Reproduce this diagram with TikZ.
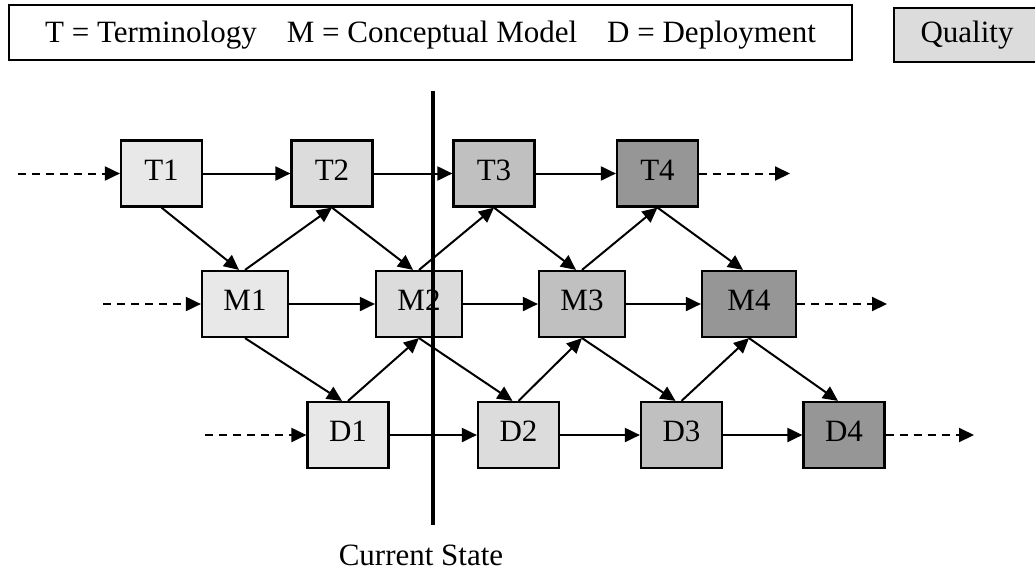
\documentclass[tikz,border=0pt]{standalone}
\usepackage{fontspec}
\setmainfont{Liberation Serif}
\usetikzlibrary{arrows.meta}

\definecolor{levelA}{HTML}{E8E8E8}
\definecolor{levelB}{HTML}{DCDCDC}
\definecolor{levelC}{HTML}{C0C0C0}
\definecolor{levelD}{HTML}{969696}

\tikzset{
  stagebox/.style={draw, line width=2.2pt, minimum width=81pt, minimum height=66pt, inner sep=0pt, text height=21pt, text depth=8pt},
  flow/.style={line width=2pt, -{Triangle[length=15pt,width=14pt]}},
  dashflow/.style={flow, dash pattern=on 8pt off 6pt}
}

\begin{document}
\begin{tikzpicture}[x=1pt, y=-1pt, font=\fontsize{31}{37}\selectfont]
                \useasboundingbox (0,0) rectangle (1035,571);
                \clip (0,0) rectangle (1035,571);
                % legend
                \node[draw, line width=2.2pt, minimum width=843pt, minimum height=55pt, inner sep=0pt, text height=26pt, text depth=7pt] (legend) at (430.5,32.5) {T = Terminology\hspace{30pt}M = Conceptual Model\hspace{30pt}D = Deployment};
                \node[draw, line width=2.2pt, fill=levelB, minimum width=146pt, minimum height=54pt, inner sep=0pt] (quality) at (967,35) {Quality};
                % terminology row
                \node[stagebox, fill=levelA] (T1) at (161.5,173.5) {T1};
                \node[stagebox, fill=levelB] (T2) at (332,173.5) {T2};
                \node[stagebox, fill=levelC] (T3) at (494,173.5) {T3};
                \node[stagebox, fill=levelD] (T4) at (657.5,173.5) {T4};
                % conceptual model row
                \node[stagebox, fill=levelA, minimum width=86pt] (M1) at (245,304) {M1};
                \node[stagebox, fill=levelB, minimum width=86pt] (M2) at (419,304) {M2};
                \node[stagebox, fill=levelC, minimum width=86pt] (M3) at (582,304) {M3};
                \node[stagebox, fill=levelD, minimum width=94pt] (M4) at (749,304) {M4};
                % deployment row
                \node[stagebox, fill=levelA] (D1) at (348,435) {D1};
                \node[stagebox, fill=levelB] (D2) at (518.5,435) {D2};
                \node[stagebox, fill=levelC] (D3) at (681.5,435) {D3};
                \node[stagebox, fill=levelD] (D4) at (844,435) {D4};
                % open ends
                \coordinate (Tin) at (18,173.5);
                \coordinate (Tout) at (790,173.5);
                \coordinate (Min) at (103,304);
                \coordinate (Mout) at (887,304);
                \coordinate (Din) at (205,435);
                \coordinate (Dout) at (974,435);
                \draw[dashflow] (Tin) -- (T1.west);
                \draw[dashflow] (T4.east) -- (Tout);
                \draw[dashflow] (Min) -- (M1.west);
                \draw[dashflow] (M4.east) -- (Mout);
                \draw[dashflow] (Din) -- (D1.west);
                \draw[dashflow] (D4.east) -- (Dout);
                % along each row
                \draw[flow] (T1) -- (T2);
                \draw[flow] (T2) -- (T3);
                \draw[flow] (T3) -- (T4);
                \draw[flow] (M1) -- (M2);
                \draw[flow] (M2) -- (M3);
                \draw[flow] (M3) -- (M4);
                \draw[flow] (D1) -- (D2);
                \draw[flow] (D2) -- (D3);
                \draw[flow] (D3) -- (D4);
                % between rows
                \foreach \i/\j in {1/2, 2/3, 3/4} {
                  \draw[flow] (T\i.south) -- ([xshift=-6pt]M\i.north);
                  \draw[flow] (M\i.north) -- (T\j.south);
                  \draw[flow] (M\i.south) -- ([xshift=-6pt]D\i.north);
                  \draw[flow] (D\i.north) -- (M\j.south);
                }
                \draw[flow] (T4.south) -- ([xshift=-6pt]M4.north);
                \draw[flow] (M4.south) -- ([xshift=-6pt]D4.north);
                % current state marker
                \coordinate (now top) at (433,91);
                \coordinate (now bottom) at (433,525);
                \draw[line width=3.5pt] (now top) -- (now bottom);
                \node (now) at (421,555) {Current State};
            \end{tikzpicture}
\end{document}
